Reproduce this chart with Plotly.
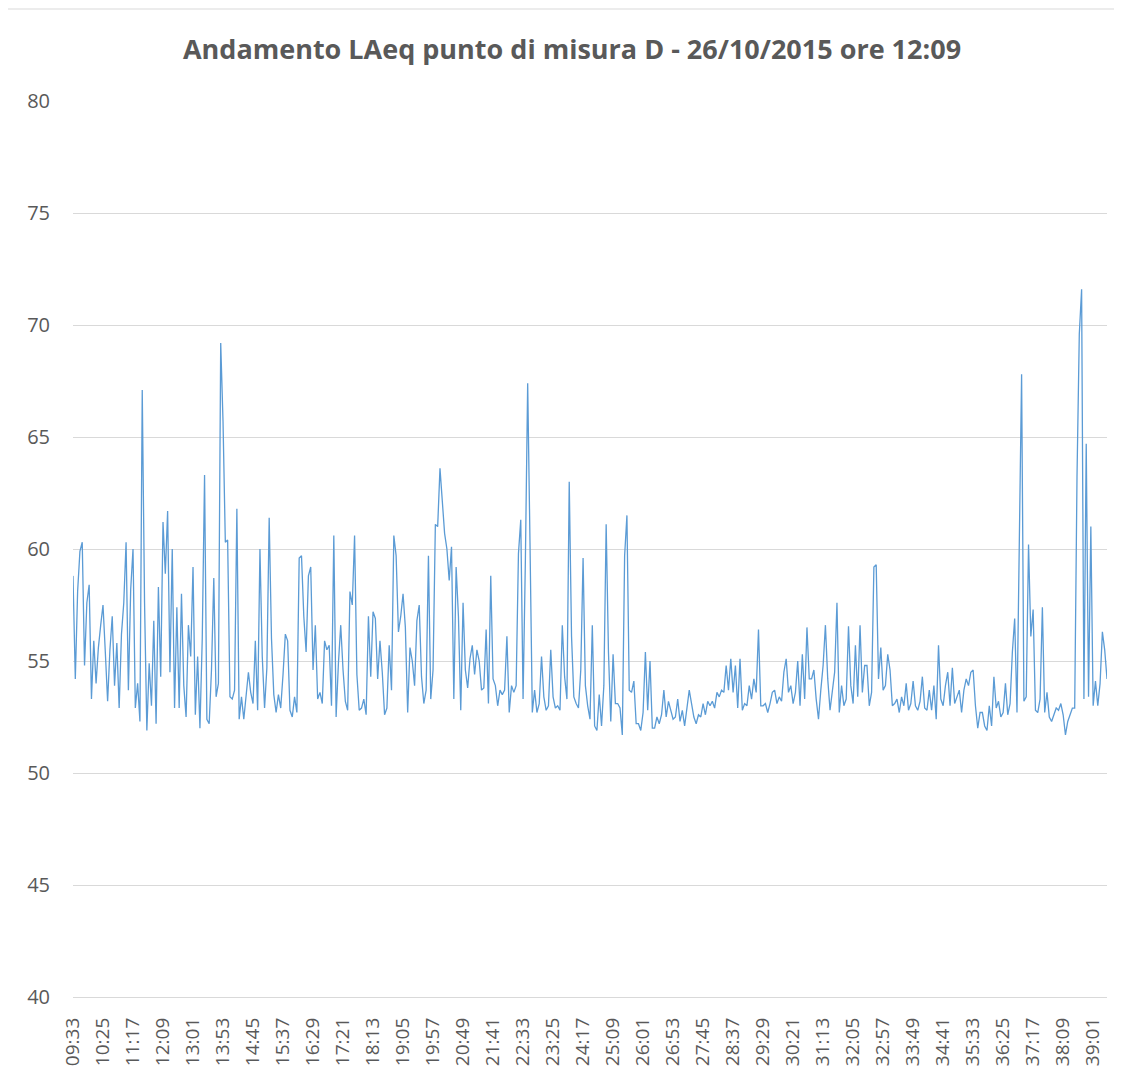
import plotly.graph_objects as go

# ---- data (LAeq dB(A), one reading every 4 s, starting at 12:09:33) ----
START_LABEL = "09:33"
STEP_SECONDS = 4

laeq_a = [58.8, 54.2, 58.1, 59.9, 60.3, 54.8, 57.6, 58.4, 53.3, 55.9,
          54.0, 55.6, 56.6, 57.5, 55.4, 53.2, 55.5, 57.0, 53.9, 55.8,
          52.9, 56.2, 57.6, 60.3, 53.7, 58.2, 60.0, 52.9, 54.0, 52.3,
          67.1, 57.6, 51.9, 54.9, 53.0, 56.8, 52.2, 58.3, 54.3, 61.2,
          58.9, 61.7, 54.5, 60.0, 52.9, 57.4, 52.9, 58.0, 53.9, 52.5,
          56.6, 55.2, 59.2, 52.6, 55.2, 52.0]
laeq_b = [56.0, 63.3, 52.4, 52.2, 54.6, 58.7, 53.4, 54.0, 69.2, 65.7,
          60.3, 60.4, 53.4, 53.3, 53.7, 61.8, 52.4, 53.4, 52.4, 53.5,
          54.5, 53.6, 53.1, 55.9, 52.8, 60.0, 55.2, 52.9, 54.7, 61.4,
          56.0, 53.5, 52.7, 53.5, 52.9, 54.4, 56.2, 55.9, 52.8, 52.5,
          53.4, 52.7, 59.6, 59.7, 57.0, 55.4, 58.8, 59.2, 54.6, 56.6,
          53.3, 53.6, 53.1, 55.9, 55.5, 55.7, 53.0]
laeq_c = [60.6, 52.5, 54.9, 56.6, 54.6, 53.2, 52.8, 58.1, 57.5, 60.6,
          54.4, 52.8, 52.9, 53.3, 52.6, 57.0, 54.3, 57.2, 56.9, 54.2,
          55.9, 54.5, 52.6, 52.9, 55.7, 53.7, 60.6, 59.7, 56.3, 57.0,
          58.0, 56.5, 52.7, 55.6, 55.0, 53.9, 56.8, 57.5, 54.3, 53.1,
          53.7, 59.7, 53.3, 54.6, 61.1, 61.0, 63.6, 62.3, 60.7, 60.0,
          58.6, 60.1, 53.3, 59.2, 57.0, 52.8]
laeq_d = [57.6, 54.6, 53.8, 55.1, 55.7, 54.4, 55.5, 55.0, 53.7, 53.8,
          56.4, 53.1, 58.8, 54.2, 53.9, 53.0, 53.7, 53.5, 53.7, 56.1,
          52.7, 53.9, 53.6, 53.9, 59.8, 61.3, 53.3, 59.5, 67.4, 60.3,
          52.7, 53.7, 52.7, 53.1, 55.2, 53.4, 52.8, 53.0, 55.5, 53.4,
          52.9, 53.0, 52.8, 56.6, 54.3, 53.3, 63.0, 56.1, 53.4, 53.1,
          52.9, 54.6, 59.6, 53.9, 53.0, 52.4]
laeq_e = [56.6, 52.1, 51.9, 53.5, 52.1, 53.9, 61.1, 55.4, 52.3, 55.3,
          53.1, 53.1, 52.9, 51.7, 59.7, 61.5, 53.7, 53.6, 54.1, 52.2,
          52.2, 51.9, 52.7, 55.4, 52.8, 55.0, 52.0, 52.0, 52.5, 52.2,
          52.6, 53.7, 52.5, 53.2, 52.8, 52.4, 52.5, 53.3, 52.3, 52.8,
          52.1, 53.0, 53.7, 53.1, 52.5, 52.2, 52.6, 52.5, 53.1, 52.6,
          53.2, 53.0, 53.2, 52.9, 53.6, 53.4]
laeq_f = [53.7, 53.6, 54.8, 53.7, 55.1, 53.6, 54.8, 52.9, 55.1, 52.8,
          53.1, 53.0, 53.9, 53.3, 54.2, 53.6, 56.4, 53.0, 53.0, 53.1,
          52.7, 53.1, 53.6, 53.7, 53.1, 53.4, 53.2, 54.5, 55.1, 53.6,
          53.9, 53.1, 53.6, 55.0, 53.0, 55.3, 53.3, 56.5, 54.2, 54.2,
          54.6, 53.3, 52.4, 53.7, 54.8, 56.6, 54.2, 52.8, 53.6, 54.5,
          57.6, 52.7, 53.9, 53.0, 53.3, 56.55]
laeq_g = [53.9, 53.1, 55.7, 53.4, 56.6, 53.6, 54.8, 54.8, 53.0, 53.6,
          59.2, 59.3, 54.2, 55.6, 53.7, 53.9, 55.3, 54.6, 53.0, 53.1,
          53.3, 52.7, 53.4, 53.0, 54.0, 52.8, 53.1, 54.1, 53.0, 52.8,
          53.2, 54.3, 52.9, 52.8, 53.7, 52.8, 53.9, 52.4, 55.7, 53.3,
          53.0, 53.9, 54.5, 53.0, 54.7, 53.1, 53.4, 53.7, 52.7, 53.7,
          54.2, 53.9, 54.5, 54.6, 53.0, 52.0, 52.7]
laeq_h = [52.7, 52.1, 51.9, 53.0, 52.1, 54.3, 52.9, 53.2, 52.5, 52.7,
          54.0, 52.6, 53.1, 55.4, 56.9, 52.7, 59.8, 67.8, 53.2, 53.4,
          60.2, 56.1, 57.3, 52.8, 52.7, 53.3, 57.4, 52.7, 53.6, 52.5,
          52.3, 52.6, 52.9, 52.8, 53.1, 52.6, 51.7, 52.3, 52.6, 52.9,
          52.9, 63.2, 69.6, 71.6, 53.3, 64.7, 53.4, 61.0, 53.0, 54.1,
          53.0, 54.0, 56.3, 55.5, 54.2]

tick_labels = ["09:33", "10:25", "11:17", "12:09", "13:01", "13:53", "14:45",
               "15:37", "16:29", "17:21", "18:13", "19:05", "19:57", "20:49",
               "21:41", "22:33", "23:25", "24:17", "25:09", "26:01", "26:53",
               "27:45", "28:37", "29:29", "30:21", "31:13", "32:05", "32:57",
               "33:49", "34:41", "35:33", "36:25", "37:17", "38:09", "39:01"]
y_ticks = [40, 45, 50, 55, 60, 65, 70, 75, 80]

TITLE = "Andamento LAeq punto di misura D - 26/10/2015 ore 12:09"

# ---- build ----
laeq = laeq_a + laeq_b + laeq_c + laeq_d + laeq_e + laeq_f + laeq_g + laeq_h


def to_sec(lbl):
    m, s = lbl.split(":")
    return int(m) * 60 + int(s)


t0 = to_sec(START_LABEL)
seconds = [i * STEP_SECONDS for i in range(len(laeq))]
time_labels = ["%02d:%02d" % divmod(t0 + s, 60) for s in seconds]
tick_vals = [to_sec(l) - t0 for l in tick_labels]

fig = go.Figure()
fig.add_trace(go.Scatter(
    x=seconds, y=laeq, mode="lines",
    line=dict(color="#5B9BD5", width=1.3),
    customdata=time_labels,
    hovertemplate="%{customdata}: %{y} dB<extra></extra>",
))

# the page body has an 8 px margin, so the figure starts at (8, 8)
OFF = 8
W, H = 1122 - OFF, 1068 - OFF
L, R, T, B = 73 - OFF, 15, 101 - OFF, 71
pw = W - L - R
ph = H - T - B

fig.update_layout(
    width=W, height=H,
    margin=dict(l=L, r=R, t=T, b=B, autoexpand=False),
    paper_bgcolor="white", plot_bgcolor="white",
    showlegend=False,
    font=dict(family="Open Sans, Liberation Sans, sans-serif", color="#595959"),
    title=dict(
        text="<b>" + TITLE + "</b>",
        x=(572 - OFF) / W, xanchor="center", xref="container",
        y=1 - (50 - OFF) / H, yanchor="middle", yref="container",
        font=dict(size=27, color="#595959", family="Open Sans, sans-serif"),
    ),
    xaxis=dict(
        range=[0, seconds[-1]],
        tickmode="array", tickvals=tick_vals, ticktext=tick_labels,
        tickangle=-90, ticks="outside", ticklen=12, tickcolor="rgba(0,0,0,0)",
        tickfont=dict(size=19, color="#595959"),
        showgrid=False, zeroline=False,
        showline=True, linecolor="#d9d9d9", linewidth=1.3,
        automargin=False, fixedrange=True,
    ),
    yaxis=dict(
        range=[40, 80], tickmode="array", tickvals=y_ticks,
        ticks="outside", ticklen=18, tickcolor="rgba(0,0,0,0)",
        tickfont=dict(size=20, color="#595959"),
        showgrid=True, gridcolor="#d9d9d9", gridwidth=1.3,
        zeroline=False, showline=False, automargin=False, fixedrange=True,
    ),
)

# thin chart-area border line at the top of the picture
fig.add_shape(type="line", xref="paper", yref="paper",
              x0=-L / pw, x1=(W - L) / pw,
              y0=1 + (T - 1) / ph, y1=1 + (T - 1) / ph,
              line=dict(color="#d9d9d9", width=1))

fig.write_html("out.html")
